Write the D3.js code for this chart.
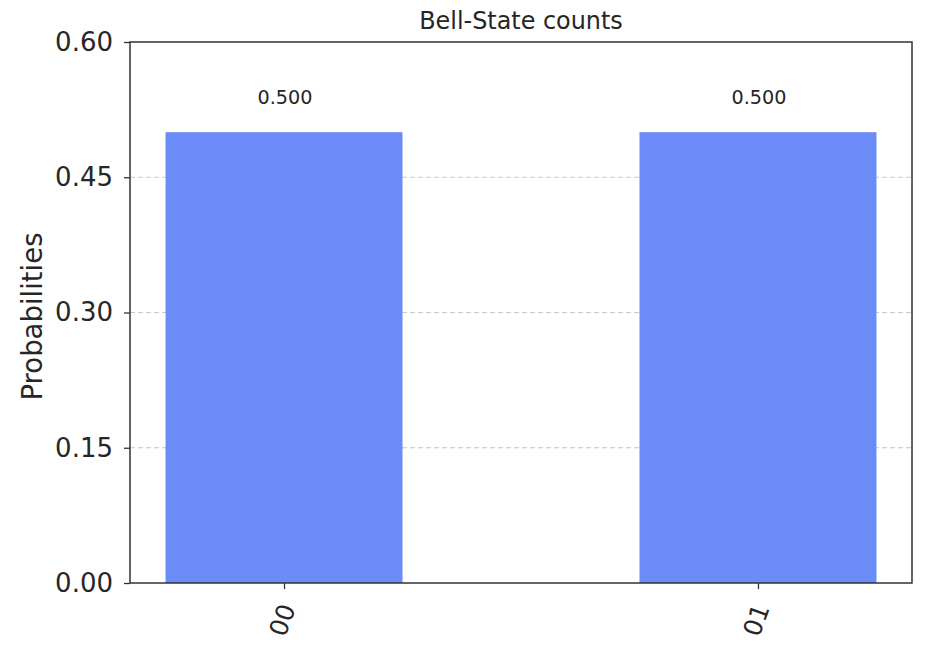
<!DOCTYPE html>
<html>
<head>
<meta charset="utf-8">
<script src="https://cdn.jsdelivr.net/npm/d3@7"></script>
<style>
  html, body { margin: 0; padding: 0; background: #fff; }
  text { font-family: "DejaVu Sans", sans-serif; fill: #262626; }
</style>
</head>
<body>
<svg id="chart" width="948" height="656"></svg>
<script>
const title = "Bell-State counts";
const yLabel = "Probabilities";
const categories = ["00", "01"];
const values = [0.5, 0.5];
const valueLabels = ["0.500", "0.500"];
const yTicks = [0.0, 0.15, 0.30, 0.45, 0.60];
const yTickLabels = ["0.00", "0.15", "0.30", "0.45", "0.60"];

const W = 948, H = 656;
const m = { left: 130, right: 36, top: 42, bottom: 73 };
const svg = d3.select("#chart");
const pw = W - m.left - m.right, ph = H - m.top - m.bottom;
const g = svg.append("g").attr("transform", `translate(${m.left},${m.top})`);

const x = d3.scaleLinear().domain([-0.325, 1.325]).range([0, pw]);
const y = d3.scaleLinear().domain([0, 0.6]).range([ph, 0]);
const barW = 0.5;

// grid
g.selectAll("line.grid").data(yTicks.filter(t => t > 0 && t < 0.6)).enter()
  .append("line").attr("class", "grid")
  .attr("x1", 0).attr("x2", pw)
  .attr("y1", d => y(d)).attr("y2", d => y(d))
  .attr("stroke", "#c8c8c8").attr("stroke-width", 1)
  .attr("stroke-dasharray", "5,3");

// bars
g.selectAll("rect.bar").data(values).enter().append("rect")
  .attr("class", "bar")
  .attr("x", (d, i) => x(i - barW / 2))
  .attr("width", (d, i) => x(i + barW / 2) - x(i - barW / 2))
  .attr("y", d => y(d))
  .attr("height", d => ph - y(d))
  .attr("fill", "#6b8cf6");

// value labels
g.selectAll("text.vl").data(values).enter().append("text")
  .attr("class", "vl")
  .attr("x", (d, i) => x(i) + 1)
  .attr("y", d => y(d) - 28)
  .attr("text-anchor", "middle")
  .attr("font-size", "19.2px")
  .text((d, i) => valueLabels[i]);

// y axis
const yAxis = d3.axisLeft(y).tickValues(yTicks)
  .tickFormat((d, i) => yTickLabels[i]).tickSize(6).tickPadding(11);
const ya = g.append("g").call(yAxis);
ya.select(".domain").remove();
ya.selectAll(".tick line").attr("stroke", "#333").attr("stroke-width", 1.3);
ya.selectAll(".tick text").attr("font-size", "26px").attr("font-family", "DejaVu Sans").attr("fill", "#262626");

// x axis
const xa = g.append("g").attr("transform", `translate(0,${ph})`)
  .call(d3.axisBottom(x).tickValues(categories.map((c, i) => i)).tickFormat(() => "").tickSize(6));
xa.select(".domain").remove();
xa.selectAll(".tick line").attr("stroke", "#333").attr("stroke-width", 1.3);

g.selectAll("text.xl").data(categories).enter().append("text")
  .attr("class", "xl")
  .attr("transform", (d, i) => `translate(${x(i) - 2},${ph + 37}) rotate(-70)`)
  .attr("text-anchor", "middle")
  .attr("dy", "0.36em")
  .attr("font-size", "25px")
  .text(d => d);

// frame
g.append("rect").attr("x", 0).attr("y", 0).attr("width", pw).attr("height", ph)
  .attr("fill", "none").attr("stroke", "#333").attr("stroke-width", 1.5);

// title
svg.append("text").attr("x", m.left + pw / 2).attr("y", 29)
  .attr("text-anchor", "middle").attr("font-size", "23.9px").text(title);

// y label
svg.append("text")
  .attr("transform", `translate(42,${m.top + ph / 2 + 4}) rotate(-90)`)
  .attr("text-anchor", "middle").attr("font-size", "27.5px").text(yLabel);
</script>
</body>
</html>
